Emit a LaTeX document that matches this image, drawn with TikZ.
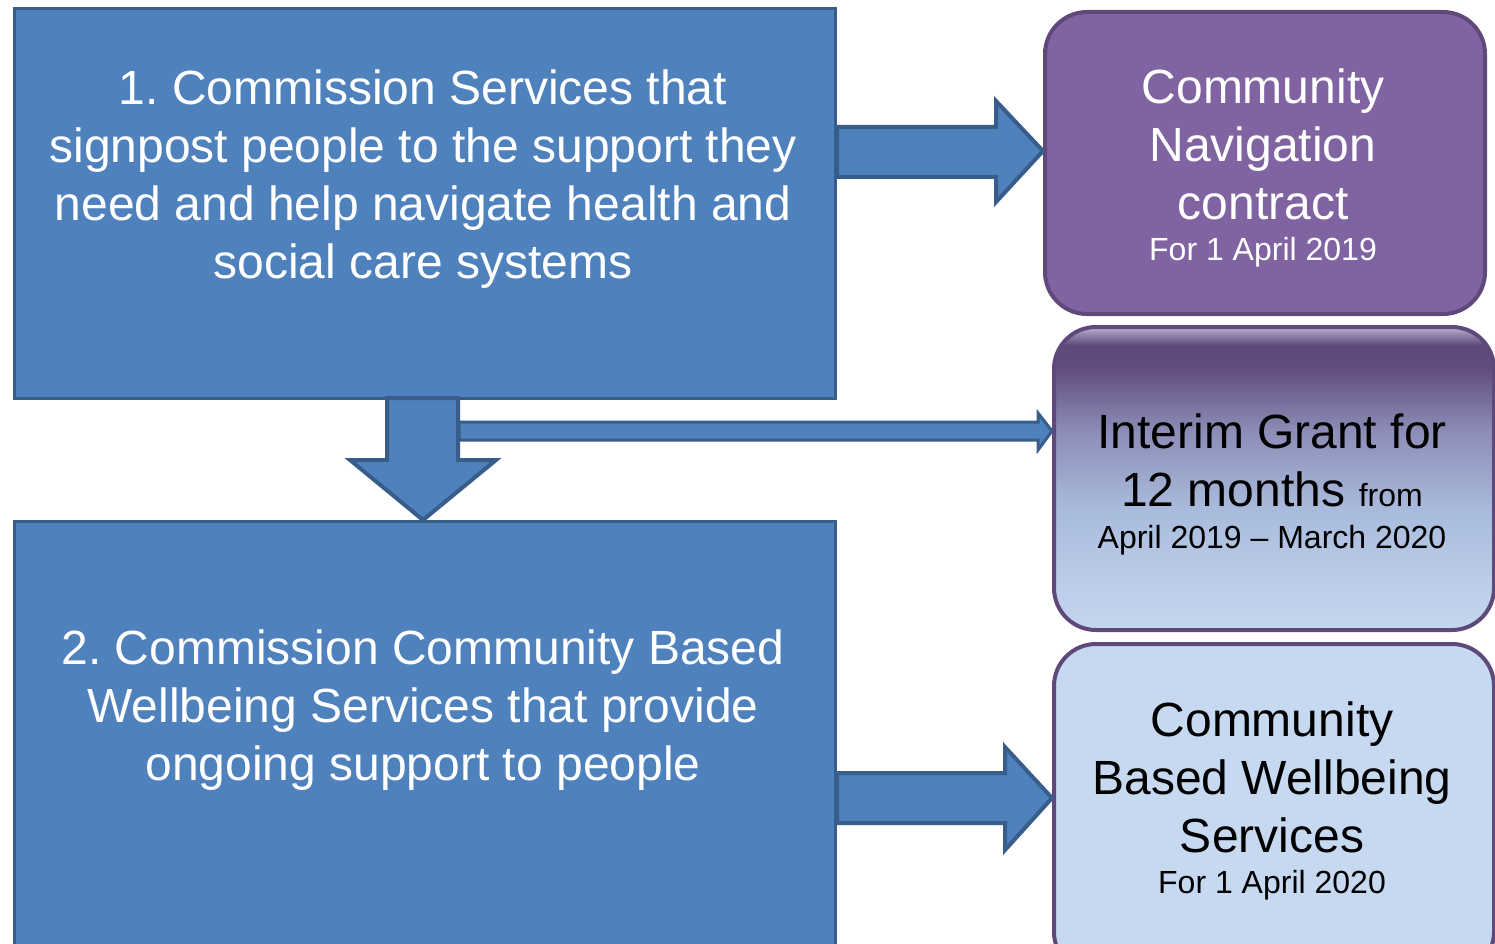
\documentclass[tikz,border=0pt]{standalone}
\usepackage{fontspec}
\setmainfont{Liberation Sans}
\frenchspacing
\definecolor{bluefill}{HTML}{4F81BD}
\definecolor{blueedge}{HTML}{385D8A}
\definecolor{purplefill}{HTML}{8064A2}
\definecolor{purpleedge}{HTML}{5F497A}
\definecolor{lightfill}{HTML}{C6D9F1}
\definecolor{gA}{HTML}{C6D8EF}
\definecolor{gB}{HTML}{A9BBDC}
\definecolor{gC}{HTML}{8C8CB6}
\definecolor{gD}{HTML}{624E7E}
\definecolor{gE}{HTML}{5E4A7A}
\definecolor{gF}{HTML}{9A8DB4}
\definecolor{gG}{HTML}{BEB5D0}
\pgfdeclareverticalshading{grantshade}{100bp}{%
  color(0bp)=(gA);
  color(25bp)=(gA);
  color(45bp)=(gB);
  color(58bp)=(gC);
  color(68bp)=(gD);
  color(72bp)=(gE);
  color(74bp)=(gF);
  color(75bp)=(gG);
  color(100bp)=(gG)}
\begin{document}
\begin{tikzpicture}[x=1pt,y=-1pt,
  bluebox/.style={draw=blueedge, fill=bluefill, line width=3pt, anchor=north west, inner sep=0pt},
  roundbox/.style={draw=purpleedge, line width=4pt, rounded corners=42pt, anchor=north west, inner sep=0pt,
    minimum width=440pt},
  blockarrow/.style={draw=blueedge, fill=bluefill, line width=4pt, line join=miter},
  bigtext/.style={align=center, font=\fontsize{48}{58}\selectfont, inner sep=0pt},
]
\clip (0,0) rectangle (1495,944);
\useasboundingbox (0,0) rectangle (1495,944);

% boxes
\node[bluebox, minimum width=821pt, minimum height=390pt] (b1) at (13,7) {};
\node[bluebox, minimum width=821pt, minimum height=440pt] (b2) at (13,520) {};
\node[roundbox, fill=purplefill, minimum height=302pt] (p1) at (1043,10) {};
\node[roundbox, shading=grantshade, minimum height=303pt] (g1) at (1052,325) {};
\node[roundbox, fill=lightfill, minimum height=330pt] (l1) at (1052,642) {};

% block arrows
\draw[blockarrow] (387,398) -- (458,398) -- (458,460) -- (496,460)
  -- (b2.north west -| 423,0) -- (350,460) -- (387,460) -- cycle;
\draw[blockarrow, line width=3pt] (459,422) -- (1038,422) -- (1038,413) -- (g1.west |- 0,431)
  -- (1038,450) -- (1038,440) -- (459,440) -- cycle;
\draw[blockarrow] (837,127) -- (996,127) -- (996,101) -- (p1.west |- 0,151)
  -- (996,202) -- (996,177) -- (837,177) -- cycle;
\draw[blockarrow] (837,773) -- (1005,773) -- (1005,747) -- (l1.west |- 0,798)
  -- (1005,850) -- (1005,823) -- (837,823) -- cycle;

% texts
\node[bigtext, text=white] (t1) at (423,179.5)
  {1. Commission Services that\\signpost people to the support they\\need and help navigate health and\\social care systems};
\node[bigtext, text=white] (t2) at (423,710.5)
  {2. Commission Community Based\\Wellbeing Services that provide\\ongoing support to people};
\node[bigtext, text=white] (tp) at (1263,167.5)
  {Community\\Navigation\\contract\\[-17pt]{\fontsize{32}{40}\selectfont For 1 April 2019}};
\node[bigtext, text=black] (tg) at (1272,484)
  {Interim Grant for\\12 months {\fontsize{32}{40}\selectfont from}\\[-16pt]{\fontsize{32}{40}\selectfont April 2019 -- March 2020}};
\node[bigtext, text=black] (tl) at (1272,801)
  {Community\\Based Wellbeing\\Services\\[-17pt]{\fontsize{32}{40}\selectfont For 1 April 2020}};
\end{tikzpicture}
\end{document}
